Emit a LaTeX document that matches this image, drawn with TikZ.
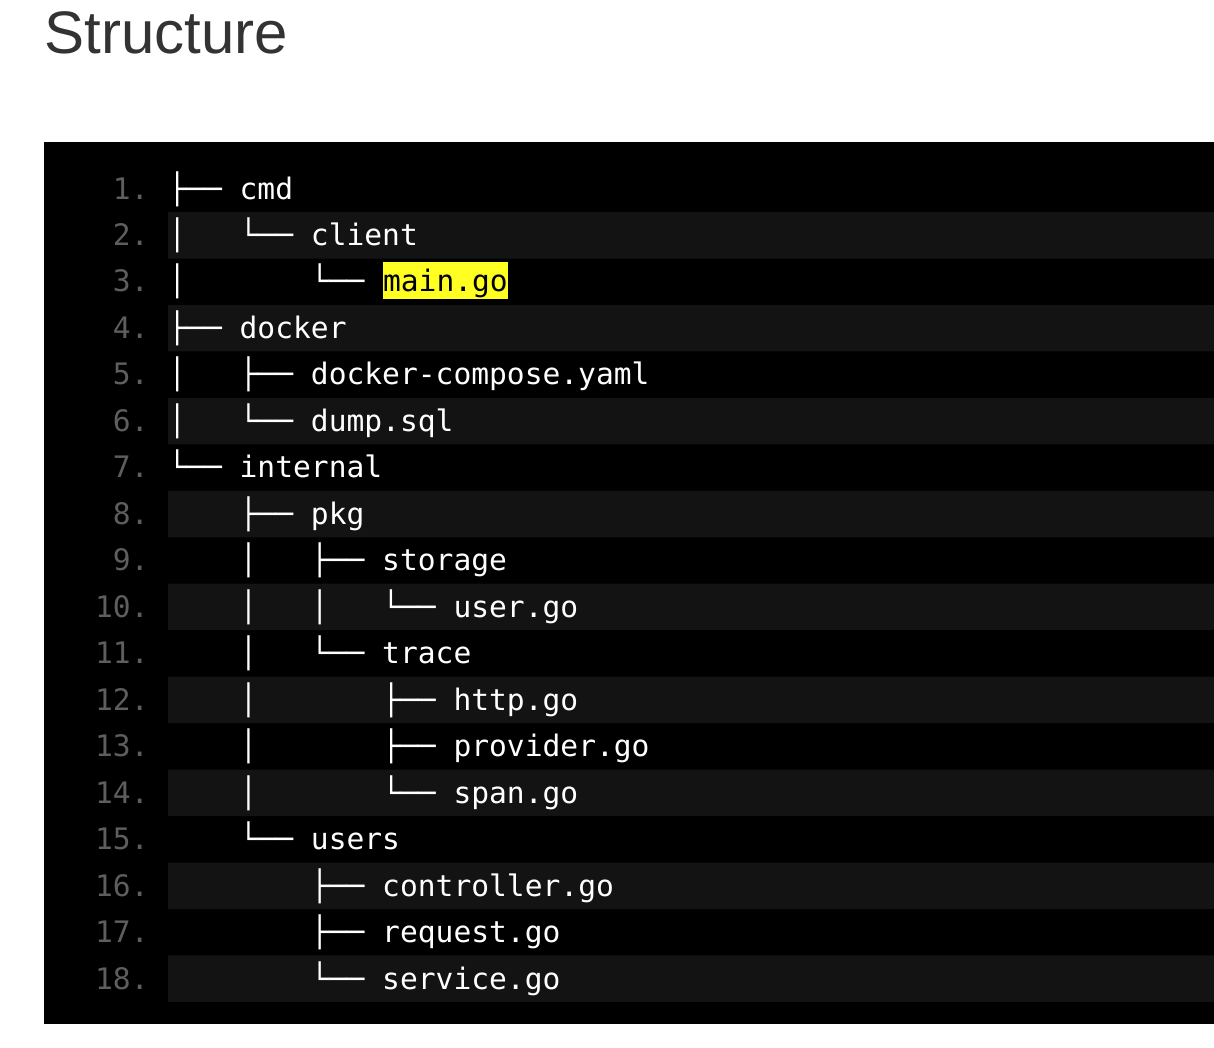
\documentclass[tikz,border=0pt]{standalone}
\usepackage{fontspec}
\setmainfont{Liberation Sans}
\newfontfamily\codefont{DejaVu Sans Mono}
\usetikzlibrary{positioning}
\definecolor{titlegray}{HTML}{333333}
\definecolor{bandgray}{HTML}{131313}
\definecolor{numgray}{HTML}{5E5E5E}
\definecolor{hlyellow}{HTML}{FFFF22}
\tikzset{
  code/.style={anchor=base west,inner sep=0pt,text=white,font=\codefont\fontsize{14.8pt}{16pt}\selectfont},
  lineno/.style={anchor=base east,inner sep=0pt,text=numgray,font=\codefont\fontsize{14.8pt}{16pt}\selectfont},
  hl/.style={code,text=black,fill=hlyellow,text height=15pt,text depth=3.5pt}
}

\begin{document}
\begin{tikzpicture}[x=0.5pt,y=-0.5pt]
      \useasboundingbox[fill=white] (0,0) rectangle (1214,1048);
      \node[anchor=base west,inner sep=0pt,text=titlegray,font=\fontsize{30pt}{36pt}\selectfont] (title) at (44,54) {Structure};

      % code block with striped rows
      \fill[black] (44,142) rectangle (1214,1024);
      \fill[bandgray] (168,212) rectangle (1214,258.5)
        (168,305) rectangle (1214,351.4)
        (168,397.9) rectangle (1214,444.3)
        (168,490.8) rectangle (1214,537.3)
        (168,583.7) rectangle (1214,630.2)
        (168,676.6) rectangle (1214,723.1)
        (168,769.6) rectangle (1214,816)
        (168,862.5) rectangle (1214,909)
        (168,955.4) rectangle (1214,1001.9);

      \begin{scope}[lineno]
        \node (n1) at (149,199) {1.};
        \node (n2) at (149,245.5) {2.};
        \node (n3) at (149,291.9) {3.};
        \node (n4) at (149,338.4) {4.};
        \node (n5) at (149,384.9) {5.};
        \node (n6) at (149,431.4) {6.};
        \node (n7) at (149,477.8) {7.};
        \node (n8) at (149,524.3) {8.};
        \node (n9) at (149,570.8) {9.};
        \node (n10) at (149,617.2) {10.};
        \node (n11) at (149,663.7) {11.};
        \node (n12) at (149,710.2) {12.};
        \node (n13) at (149,756.6) {13.};
        \node (n14) at (149,803.1) {14.};
        \node (n15) at (149,849.6) {15.};
        \node (n16) at (149,896) {16.};
        \node (n17) at (149,942.5) {17.};
        \node (n18) at (149,989) {18.};
      \end{scope}

      \begin{scope}[code]
        \node (r1) at (168,199) {├──~cmd};
        \node (r2) at (168,245.5) {│~~~└──~client};
        \node (r3) at (168,291.9) {│~~~~~~~└──~\null};
        \node (r4) at (168,338.4) {├──~docker};
        \node (r5) at (168,384.9) {│~~~├──~docker-compose.yaml};
        \node (r6) at (168,431.4) {│~~~└──~dump.sql};
        \node (r7) at (168,477.8) {└──~internal};
        \node (r8) at (168,524.3) {~~~~├──~pkg};
        \node (r9) at (168,570.8) {~~~~│~~~├──~storage};
        \node (r10) at (168,617.2) {~~~~│~~~│~~~└──~user.go};
        \node (r11) at (168,663.7) {~~~~│~~~└──~trace};
        \node (r12) at (168,710.2) {~~~~│~~~~~~~├──~http.go};
        \node (r13) at (168,756.6) {~~~~│~~~~~~~├──~provider.go};
        \node (r14) at (168,803.1) {~~~~│~~~~~~~└──~span.go};
        \node (r15) at (168,849.6) {~~~~└──~users};
        \node (r16) at (168,896) {~~~~~~~~├──~controller.go};
        \node (r17) at (168,942.5) {~~~~~~~~├──~request.go};
        \node (r18) at (168,989) {~~~~~~~~└──~service.go};
      \end{scope}
      \node[hl] (main) at (r3.base east) {main.go};
    \end{tikzpicture}
\end{document}
